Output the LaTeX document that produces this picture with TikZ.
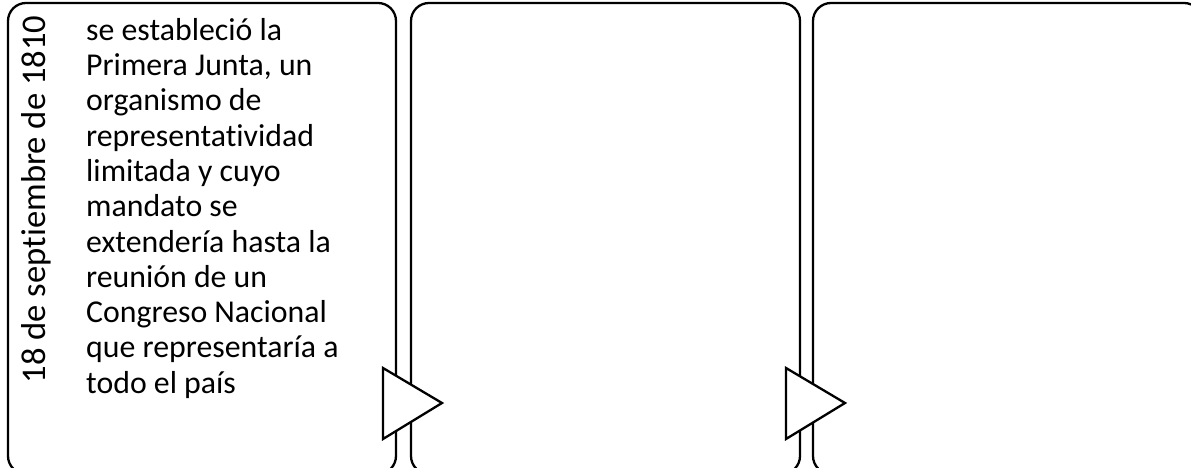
\documentclass[tikz,border=0pt]{standalone}
\usepackage{fontspec}
\setmainfont{Carlito}[Ligatures=NoCommon]
\begin{document}
\begin{tikzpicture}[x=1pt,y=1pt,
  panel/.style={draw=black,line width=2.3pt,rounded corners=18pt},
  arrowtri/.style={draw=black,fill=white,line width=2.3pt,line join=miter},
  datetext/.style={rotate=90,anchor=base,inner sep=0pt,font=\fontsize{34.6}{40}\selectfont},
  bodytext/.style={anchor=north west,inner sep=0pt,align=left,font=\fontsize{31.8}{35.3}\selectfont}]
\useasboundingbox (0,0) rectangle (1191,468);
\clip (0,0) rectangle (1191,468);
\draw[panel] (8,465) rectangle (396,-6);
\draw[panel] (411,465) rectangle (800,-6);
\draw[panel] (813,465) rectangle (1202,-6);
\draw[arrowtri] (383,100) -- (442,65) -- (383,29) -- cycle;
\draw[arrowtri] (786,100) -- (845,65) -- (786,29) -- cycle;
\node[datetext] (date) at (45,268.5) {18 de septiembre de 1810};
\node[bodytext] (body) at (86,450) {se estableció la\\
Primera Junta, un\\
organismo de\\
representatividad\\
limitada y cuyo\\
mandato se\\
extendería hasta la\\
reunión de un\\
Congreso Nacional\\
que representaría a\\
todo el país};
\end{tikzpicture}
\end{document}
